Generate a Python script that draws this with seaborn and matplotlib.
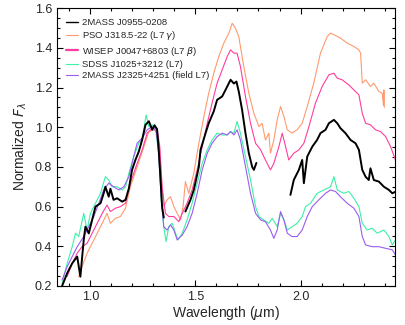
import numpy as np
import pandas as pd
import matplotlib
matplotlib.use("Agg")
import matplotlib.pyplot as plt
import seaborn as sns
from matplotlib.ticker import MultipleLocator

# ---- data ----
black_x1 = [0.865, 0.889, 0.913, 0.937, 0.952, 0.968, 0.976, 0.992, 1.008, 1.024, 1.048, 1.063, 1.071, 1.087,
            1.095, 1.110, 1.127, 1.151, 1.167, 1.183, 1.198, 1.214, 1.230, 1.246, 1.262, 1.278, 1.294, 1.305,
            1.317, 1.325, 1.333, 1.341, 1.349]
black_y1 = [0.200, 0.264, 0.314, 0.348, 0.247, 0.432, 0.499, 0.465, 0.533, 0.600, 0.617, 0.667, 0.700, 0.650,
            0.690, 0.634, 0.642, 0.625, 0.634, 0.692, 0.785, 0.835, 0.877, 0.936, 1.012, 1.030, 0.987, 1.010,
            0.990, 0.886, 0.750, 0.600, 0.545]
black_x2 = [1.452, 1.476, 1.492, 1.516, 1.524, 1.548, 1.563, 1.587, 1.603, 1.627, 1.643, 1.667, 1.683, 1.695,
            1.706, 1.722, 1.738, 1.754, 1.770, 1.778, 1.790]
black_y2 = [0.575, 0.634, 0.684, 0.800, 0.886, 0.970, 1.020, 1.080, 1.138, 1.155, 1.188, 1.239, 1.220, 1.230,
            1.180, 1.087, 0.970, 0.869, 0.800, 0.785, 0.820]
black_x3 = [1.952, 1.968, 1.992, 2.008, 2.016, 2.032, 2.056, 2.079, 2.095, 2.119, 2.135, 2.159, 2.175, 2.190,
            2.214, 2.238, 2.262, 2.278, 2.294, 2.310, 2.325, 2.333, 2.349, 2.373, 2.397, 2.421, 2.437, 2.452]
black_y3 = [0.659, 0.734, 0.785, 0.835, 0.718, 0.852, 0.902, 0.936, 0.970, 0.987, 1.020, 1.037, 1.020, 0.995,
            0.970, 0.936, 0.919, 0.886, 0.785, 0.750, 0.734, 0.793, 0.734, 0.726, 0.700, 0.684, 0.667, 0.675]

orange_x = [0.944, 0.960, 0.984, 1.008, 1.032, 1.056, 1.079, 1.095, 1.119, 1.143, 1.167, 1.190, 1.222, 1.254,
            1.278, 1.302, 1.317, 1.330, 1.341, 1.349, 1.365, 1.381, 1.397, 1.413, 1.429, 1.441, 1.452, 1.468,
            1.492, 1.516, 1.540, 1.563, 1.587, 1.611, 1.635, 1.659, 1.675, 1.690, 1.706, 1.730, 1.754, 1.778,
            1.802, 1.817, 1.833, 1.849, 1.857, 1.873, 1.889, 1.905, 1.921, 1.937, 1.960, 1.984, 2.008, 2.032,
            2.063, 2.095, 2.127, 2.143, 2.159, 2.190, 2.222, 2.254, 2.278, 2.286, 2.294, 2.310, 2.333, 2.349,
            2.373, 2.389, 2.395, 2.397, 2.399]
orange_y = [0.247, 0.297, 0.365, 0.415, 0.466, 0.516, 0.566, 0.516, 0.541, 0.550, 0.592, 0.700, 0.800, 0.900,
            0.978, 0.987, 0.978, 0.886, 0.700, 0.600, 0.634, 0.650, 0.600, 0.566, 0.533, 0.600, 0.726, 0.667,
            0.768, 0.919, 1.054, 1.171, 1.272, 1.356, 1.424, 1.474, 1.524, 1.499, 1.457, 1.306, 1.171, 1.070,
            1.003, 1.020, 0.936, 0.970, 0.869, 0.936, 1.037, 1.104, 1.054, 0.987, 0.970, 0.987, 1.020, 1.104,
            1.222, 1.373, 1.457, 1.474, 1.466, 1.449, 1.424, 1.407, 1.390, 1.373, 1.222, 1.239, 1.205, 1.222,
            1.180, 1.171, 1.110, 1.188, 1.100]

pink_x = [0.889, 0.913, 0.937, 0.960, 0.984, 1.008, 1.032, 1.056, 1.079, 1.095, 1.119, 1.143, 1.167, 1.190,
          1.214, 1.246, 1.270, 1.294, 1.317, 1.330, 1.341, 1.357, 1.373, 1.397, 1.421, 1.437, 1.460, 1.484,
          1.508, 1.532, 1.556, 1.579, 1.603, 1.627, 1.651, 1.667, 1.683, 1.698, 1.714, 1.738, 1.762, 1.786,
          1.810, 1.833, 1.857, 1.873, 1.897, 1.913, 1.929, 1.944, 1.968, 1.992, 2.016, 2.040, 2.071, 2.103,
          2.135, 2.159, 2.175, 2.198, 2.230, 2.254, 2.278, 2.294, 2.310, 2.333, 2.357, 2.381, 2.405, 2.429,
          2.452]
pink_y = [0.247, 0.314, 0.365, 0.398, 0.415, 0.466, 0.516, 0.566, 0.608, 0.575, 0.592, 0.600, 0.617, 0.718,
          0.793, 0.886, 0.970, 0.995, 0.995, 0.903, 0.700, 0.566, 0.550, 0.550, 0.524, 0.566, 0.617, 0.684,
          0.785, 0.903, 1.020, 1.121, 1.222, 1.289, 1.356, 1.390, 1.373, 1.373, 1.306, 1.155, 1.020, 0.919,
          0.886, 0.835, 0.785, 0.818, 0.902, 0.970, 0.902, 0.835, 0.869, 0.886, 0.919, 1.003, 1.121, 1.205,
          1.264, 1.272, 1.247, 1.239, 1.213, 1.188, 1.163, 1.070, 1.020, 1.012, 0.987, 0.978, 0.953, 0.902,
          0.835]

green_x = [0.865, 0.889, 0.913, 0.929, 0.944, 0.968, 0.984, 1.000, 1.024, 1.048, 1.071, 1.087, 1.103, 1.127,
           1.151, 1.167, 1.183, 1.206, 1.230, 1.246, 1.265, 1.278, 1.294, 1.309, 1.325, 1.337, 1.349, 1.360,
           1.373, 1.389, 1.405, 1.416, 1.437, 1.460, 1.484, 1.508, 1.532, 1.556, 1.579, 1.603, 1.627, 1.651,
           1.667, 1.683, 1.698, 1.714, 1.738, 1.762, 1.786, 1.802, 1.825, 1.849, 1.865, 1.889, 1.905, 1.921,
           1.937, 1.960, 1.984, 2.008, 2.024, 2.048, 2.079, 2.111, 2.143, 2.159, 2.175, 2.206, 2.230, 2.254,
           2.278, 2.294, 2.317, 2.341, 2.365, 2.397, 2.421, 2.437, 2.452]
green_y = [0.213, 0.314, 0.398, 0.466, 0.449, 0.566, 0.482, 0.566, 0.617, 0.667, 0.751, 0.734, 0.700, 0.700,
           0.684, 0.700, 0.768, 0.852, 0.919, 0.936, 1.062, 1.003, 1.012, 0.995, 0.869, 0.634, 0.499, 0.424,
           0.499, 0.516, 0.466, 0.432, 0.466, 0.533, 0.617, 0.718, 0.818, 0.886, 0.936, 0.970, 0.961, 0.961,
           0.978, 0.970, 1.029, 0.970, 0.852, 0.734, 0.600, 0.550, 0.533, 0.516, 0.541, 0.499, 0.566, 0.533,
           0.482, 0.499, 0.516, 0.550, 0.600, 0.617, 0.667, 0.684, 0.700, 0.751, 0.684, 0.667, 0.676, 0.642,
           0.600, 0.516, 0.482, 0.491, 0.466, 0.482, 0.449, 0.407, 0.432]

purple_x = [0.865, 0.889, 0.913, 0.937, 0.968, 0.992, 1.016, 1.040, 1.063, 1.087, 1.110, 1.135, 1.159, 1.183,
            1.206, 1.222, 1.246, 1.270, 1.294, 1.314, 1.325, 1.338, 1.349, 1.365, 1.381, 1.397, 1.413, 1.437,
            1.460, 1.484, 1.508, 1.532, 1.556, 1.579, 1.603, 1.627, 1.651, 1.667, 1.683, 1.698, 1.714, 1.738,
            1.762, 1.786, 1.810, 1.833, 1.857, 1.873, 1.889, 1.905, 1.921, 1.937, 1.960, 1.984, 2.008, 2.032,
            2.056, 2.087, 2.119, 2.143, 2.167, 2.190, 2.222, 2.254, 2.278, 2.294, 2.310, 2.341, 2.373, 2.405,
            2.437, 2.452]
purple_y = [0.230, 0.297, 0.348, 0.398, 0.449, 0.499, 0.550, 0.617, 0.684, 0.718, 0.700, 0.684, 0.700, 0.751,
            0.852, 0.919, 0.945, 0.987, 1.003, 0.978, 0.869, 0.634, 0.499, 0.482, 0.508, 0.482, 0.432, 0.457,
            0.499, 0.566, 0.667, 0.785, 0.869, 0.919, 0.953, 0.970, 0.961, 0.978, 0.961, 0.987, 0.936, 0.802,
            0.667, 0.566, 0.533, 0.524, 0.482, 0.440, 0.482, 0.575, 0.533, 0.466, 0.449, 0.449, 0.482, 0.550,
            0.600, 0.634, 0.667, 0.684, 0.676, 0.650, 0.617, 0.592, 0.550, 0.449, 0.407, 0.398, 0.398, 0.390,
            0.382, 0.357]

labels = ["2MASS J0955-0208", r"PSO J318.5-22 (L7 $\gamma$)", r"WISEP J0047+6803 (L7 $\beta$)",
          "SDSS J1025+3212 (L7)", "2MASS J2325+4251 (field L7)"]
colors = ["#000000", "#ff9a6e", "#ff3d9e", "#3cf0a6", "#9b5cf0"]

sns.set_theme(style="ticks")
plt.rcParams['font.family'] = ['Liberation Sans', 'DejaVu Sans']
plt.rcParams['mathtext.fontset'] = 'dejavusans'

fig = plt.figure(figsize=(4.06, 3.25), dpi=100)
ax = fig.add_axes([0.140, 0.12, 0.833, 0.855])

def draw(x, y, color, lw, label=None):
    df = pd.DataFrame({"x": x, "y": y})
    sns.lineplot(data=df, x="x", y="y", ax=ax, color=color, linewidth=lw, estimator=None,
                 sort=False, label=label, legend=False)

draw(orange_x, orange_y, colors[1], 0.8)
draw(pink_x, pink_y, colors[2], 0.8)
draw(green_x, green_y, colors[3], 0.8)
draw(purple_x, purple_y, colors[4], 0.8)
draw(black_x1, black_y1, colors[0], 1.4)
draw(black_x2, black_y2, colors[0], 1.4)
draw(black_x3, black_y3, colors[0], 1.4)

from matplotlib.lines import Line2D
handles = [Line2D([], [], color=colors[0], lw=1.0),
           Line2D([], [], color=colors[1], lw=0.8),
           Line2D([], [], color=colors[2], lw=1.6),
           Line2D([], [], color=colors[3], lw=0.8),
           Line2D([], [], color=colors[4], lw=0.8)]
ax.legend(handles, labels, loc="upper left", bbox_to_anchor=(0.01, 0.985), frameon=False,
          fontsize=6.8, handlelength=1.3, handletextpad=0.4, labelspacing=0.25, borderaxespad=0.2)

ax.set_xlim(0.84, 2.45)
ax.set_ylim(0.2, 1.6)
ax.xaxis.set_major_locator(MultipleLocator(0.5))
ax.xaxis.set_minor_locator(MultipleLocator(0.1))
ax.yaxis.set_major_locator(MultipleLocator(0.2))
ax.yaxis.set_minor_locator(MultipleLocator(0.05))
ax.tick_params(which="both", direction="in", top=True, right=True, labelsize=9, width=0.8, color="black")
ax.tick_params(which="major", length=4)
ax.tick_params(which="minor", length=2)
for s in ax.spines.values():
    s.set_linewidth(0.8)
    s.set_color("black")
ax.set_xlabel(r"Wavelength ($\mu$m)", fontsize=10, labelpad=1)
ax.set_ylabel(r"Normalized $F_\lambda$", fontsize=10, labelpad=4)

fig.savefig("out.png", dpi=100)
